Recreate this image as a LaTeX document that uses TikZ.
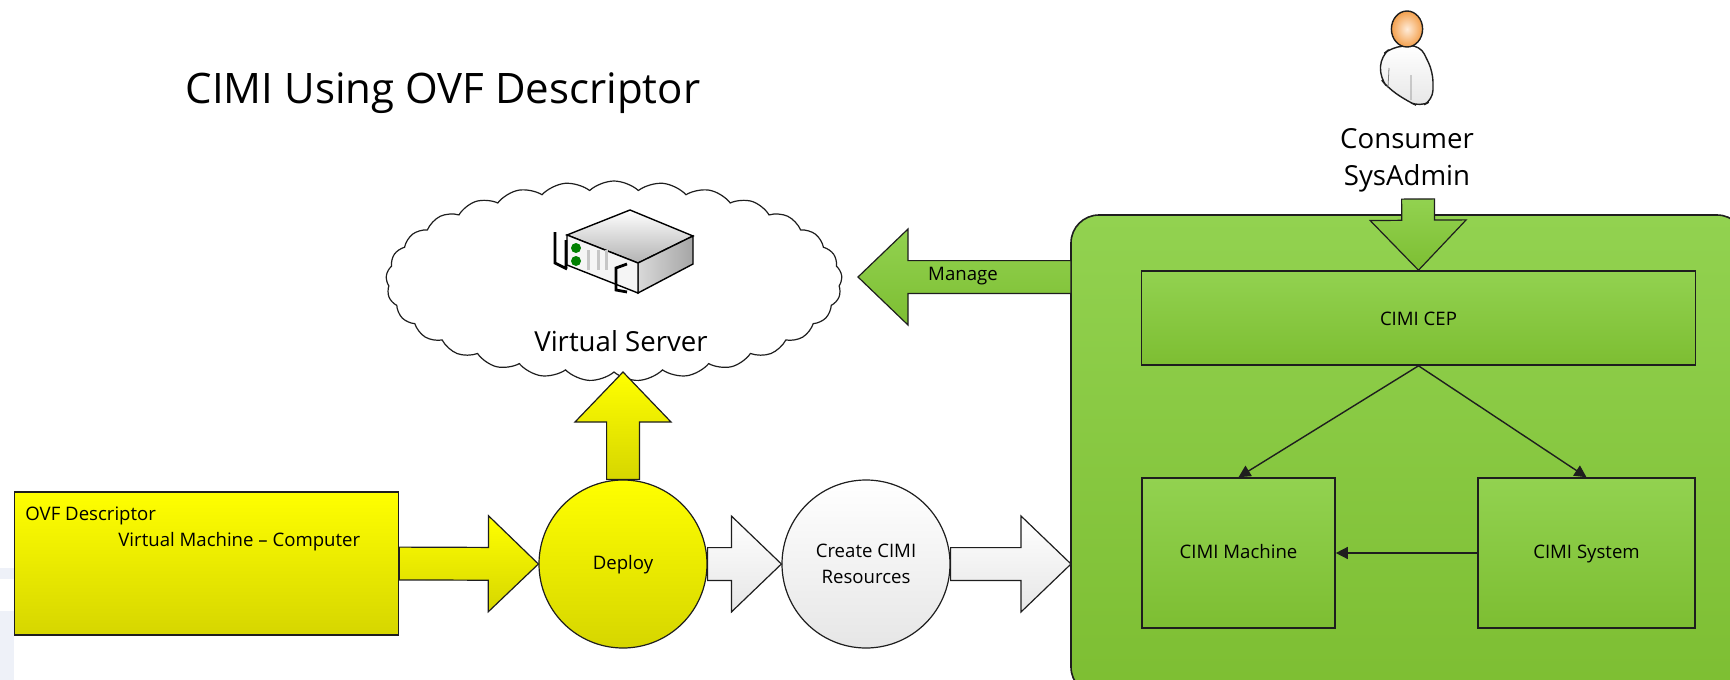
\documentclass[tikz,border=0pt]{standalone}
\usepackage{fontspec}
\setmainfont{Open Sans}
\usepackage{xcolor}
\usetikzlibrary{positioning,arrows.meta,calc,shapes.symbols}
\definecolor{yellowtop}{HTML}{FFFF00}
\definecolor{yellowbot}{HTML}{D6D600}
\definecolor{greentop}{HTML}{92D250}
\definecolor{greenbot}{HTML}{7DBE32}
\definecolor{whitebot}{HTML}{E6E6E6}
\definecolor{linegray}{HTML}{1E1E1E}
\definecolor{palestrip}{HTML}{EEF1F8}
% block arrow between two points: style, from, to
\newcommand{\blockarrow}[3]{%
    \draw[#1] ($(#2)!8.2pt!90:(#3)$) -- ($($(#3)!25pt!(#2)$)!8.2pt!90:(#3)$)
        -- ($($(#3)!25pt!(#2)$)!24pt!90:(#3)$) -- (#3)
        -- ($($(#3)!25pt!(#2)$)!24pt!-90:(#3)$) -- ($($(#3)!25pt!(#2)$)!8.2pt!-90:(#3)$)
        -- ($(#2)!8.2pt!-90:(#3)$) -- cycle;}
\begin{document}
\begin{tikzpicture}[x=0.5pt,y=-0.5pt,>={Triangle[length=6pt,width=6pt]},
    yellowfill/.style={top color=yellowtop,bottom color=yellowbot},
    greenfill/.style={top color=greentop,bottom color=greenbot},
    whitefill/.style={top color=white,bottom color=whitebot},
    box/.style={draw=linegray,line width=0.8pt,greenfill,font=\fontsize{9.3}{11}\selectfont,inner sep=0pt,text height=7pt,text depth=2pt},
    round/.style={circle,draw=linegray,line width=0.6pt,minimum size=84pt,inner sep=0pt,font=\fontsize{9.3}{13}\selectfont,align=center},
    label/.style={font=\fontsize{9.3}{11}\selectfont,inner sep=0pt,text height=7pt,text depth=2pt},
    larger/.style={font=\fontsize{13.8}{16}\selectfont,inner sep=0pt,text height=10pt,text depth=3pt},
    ]
    \useasboundingbox (0,0) rectangle (1730,680);
    \fill[palestrip] (0,568) rectangle (14,579);
    \fill[palestrip] (0,611) rectangle (14,680);

    \node[inner sep=0pt,font=\fontsize{21}{25}\selectfont] (title) at (443,93) {CIMI Using OVF Descriptor};

    % right hand side
    \node[draw=linegray,line width=0.8pt,rounded corners=14pt,greenfill,minimum width=337pt,minimum height=240pt] (panel) at (1408,455) {};
    \node[box,minimum width=277pt,minimum height=47pt] (cep) at (1418.5,318) {\raisebox{-1pt}{CIMI CEP}};
    \node[box,minimum width=96.5pt,minimum height=75pt] (machine) at (1238.5,553) {CIMI Machine};
    \node[box,minimum width=108.5pt,minimum height=75pt] (system) at (1586.5,553) {CIMI System};
    \draw[->,line width=0.7pt,draw=linegray] (cep.south) -- (machine.north);
    \draw[->,line width=0.7pt,draw=linegray] (cep.south) -- (system.north);
    \draw[->,line width=0.7pt,draw=linegray] (system.west) -- (machine.east);

    % person
    \shade[top color=white,bottom color=whitebot,draw=linegray,line width=0.7pt,rounded corners=5pt] (1381,56) -- (1392,47) -- (1420,45) -- (1433,72) -- (1433,100) -- (1420,107) -- (1407,101) -- (1388,88) -- (1380,78) -- cycle;
    \draw[gray,line width=0.4pt] (1389,68) -- (1388,87) (1411,75) -- (1411,100);
    \shade[inner color=orange!15!white,outer color=orange!75!brown!75!white,draw=linegray,line width=0.7pt] (1407,29) ellipse (7.8pt and 9pt);
    \node[larger] (consumer) at (1407,141) {Consumer};
    \node[larger] (sysadmin) at (1407,178) {SysAdmin};

    % cloud
    \node[cloud,draw=linegray,line width=0.6pt,fill=white,cloud puffs=29,cloud puff arc=85,aspect=2.2,minimum width=228pt,minimum height=100pt,inner sep=0pt] (vcloud) at (614,281) {};
    \node[larger] (vserver) at (621,344) {Virtual Server};

    % server
    \shade[top color=white,bottom color=gray!60,draw=black,line width=0.7pt] (567,235) -- (630,210) -- (693,236) -- (638,263) -- cycle;
    \shade[left color=gray!30,right color=gray!70,draw=black,line width=0.7pt] (638,263) -- (693,236) -- (693,264) -- (638,293) -- cycle;
    \fill[white!92!gray,draw=black,line width=0.7pt] (567,235) -- (638,263) -- (638,293) -- (567,265) -- cycle;
    \foreach \slotx in {587,597,605} {\fill[gray!45] (\slotx,250) rectangle +(3,20);}
    \fill[green!50!black] (576,248) circle (2.5pt) (576,261) circle (2.5pt);
    \draw[black,line width=1.4pt] (555,232) -- (555,263) -- (567,269) (566,240) -- (566,268);
    \draw[black,line width=1.4pt] (627,264) -- (616,268) -- (616,290) -- (627,292);

    % block arrows
    \coordinate (managestart) at (1071,277);
    \coordinate (managetip) at (858,277);
    \coordinate (createend) at (1071,564);
    \coordinate (consumerstart) at (1418,199);
    \coordinate (cloudtip) at (623,372);
    \node[circle,draw=linegray,line width=0.6pt,yellowfill,minimum size=84pt,inner sep=0pt,font=\fontsize{9.3}{11}\selectfont,text height=7pt,text depth=2pt] (deploy) at (623,564) {Deploy};
    \node[round,whitefill] (create) at (866,564) {Create CIMI\\Resources};
    \node[draw=linegray,line width=0.8pt,yellowfill,minimum width=192pt,minimum height=71.5pt] (desc) at (206.5,563.5) {};
    \node[label,anchor=west] (desctitle) at (25,515) {OVF Descriptor};
    \node[label,anchor=west] (descline) at (118,541) {Virtual Machine -- Computer};
    \blockarrow{draw=linegray,line width=0.6pt,yellowfill}{desc.east}{deploy.west}
    \blockarrow{draw=linegray,line width=0.6pt,yellowfill}{deploy.north}{cloudtip}
    \blockarrow{draw=linegray,line width=0.6pt,whitefill}{deploy.east}{create.west}
    \blockarrow{draw=linegray,line width=0.6pt,whitefill}{create.east}{createend}
    \blockarrow{draw=linegray,line width=0.6pt,greenfill}{managestart}{managetip}
    \blockarrow{draw=linegray,line width=0.6pt,greenfill}{consumerstart}{cep.north}
    \node[label] (managetext) at (963,275) {Manage};
\end{tikzpicture}
\end{document}
